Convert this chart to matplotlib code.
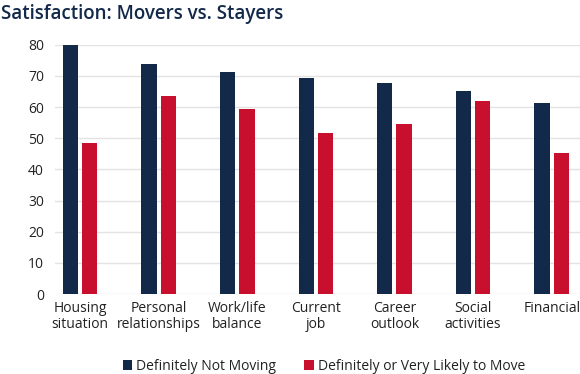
import matplotlib.pyplot as plt
import numpy as np

categories = ["Housing\nsituation", "Personal\nrelationships", "Work/life\nbalance",
              "Current\njob", "Career\noutlook", "Social\nactivities", "Financial"]
not_moving = [80.0, 73.7, 71.3, 69.4, 67.6, 65.0, 61.3]
likely_move = [48.6, 63.4, 59.3, 51.8, 54.4, 61.8, 45.4]
series_names = ["Definitely Not Moving", "Definitely or Very Likely to Move"]

navy = "#12294a"
red = "#c8102e"

plt.rcParams['font.family'] = ['Open Sans', 'DejaVu Sans']

fig = plt.figure(figsize=(5.8, 3.74), dpi=100)
ax = fig.add_axes([55 / 580, 1 - 294 / 374, 1 - 55 / 580, (294 - 44.7) / 374])

x = np.arange(len(categories))
w = 0.195
ax.bar(x - 0.123, not_moving, w, color=navy, label=series_names[0], zorder=3)
ax.bar(x + 0.123, likely_move, w, color=red, label=series_names[1], zorder=3)

ax.set_ylim(0, 80)
ax.set_xlim(-0.318, 6.36)
ax.set_yticks(range(0, 81, 10))
ax.set_xticks(x)
ax.set_xticklabels(categories, fontsize=10, color="#222222", linespacing=1.1)
ax.tick_params(axis="y", length=0, pad=8, labelsize=10, labelcolor="#222222")
ax.tick_params(axis="x", length=0, pad=5)
ax.grid(axis="y", color="#e3e3e3", linewidth=1, zorder=0)
for s in ax.spines.values():
    s.set_visible(False)

fig.text(0.002, 0.988, "Satisfaction: Movers vs. Stayers", fontsize=13.5,
         fontweight="semibold", color="#13294b", va="top", ha="left")

fig.legend(loc="center", bbox_to_anchor=(324 / 580, 1 - 366 / 374), ncol=2,
           frameon=False, fontsize=10, handlelength=0.7, handleheight=0.7,
           handletextpad=0.3, columnspacing=2.0, labelcolor="#222222")

fig.savefig("out.png", dpi=100)
